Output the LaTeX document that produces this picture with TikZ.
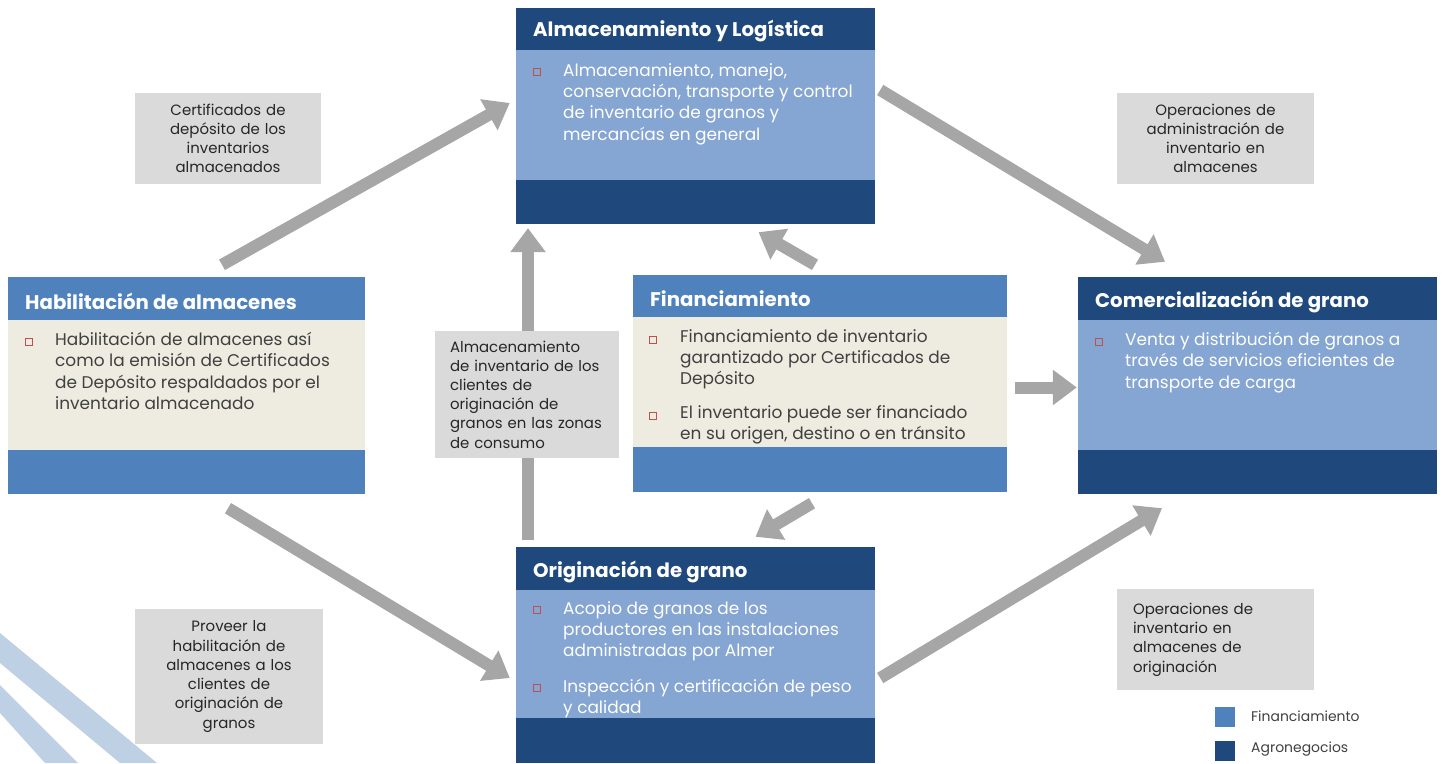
\documentclass[tikz,border=0pt]{standalone}
\usepackage{fontspec}
\setmainfont{Poppins}
\usetikzlibrary{arrows.meta}

\definecolor{agro}{RGB}{31,73,125}
\definecolor{agrolt}{RGB}{133,165,210}
\definecolor{finblue}{RGB}{79,129,189}
\definecolor{beige}{RGB}{238,236,225}
\definecolor{notegray}{RGB}{218,218,218}
\definecolor{flowgray}{RGB}{166,166,166}
\definecolor{bulletred}{RGB}{192,80,77}
\definecolor{bodygray}{RGB}{64,64,64}
\definecolor{stripe}{RGB}{190,208,228}

\begin{document}
\begin{tikzpicture}[x=1bp,y=-1bp,
  panel/.style={rectangle,inner sep=0pt,minimum width=359bp},
  head/.style={anchor=west,inner sep=0pt,text=white,font=\bfseries\fontsize{19.8}{23}\selectfont},
  body/.style={anchor=north west,inner sep=0pt,align=left,font=\fontsize{17}{21.5}\selectfont},
  bullet/.style={rectangle,draw=bulletred,line width=0.8bp,inner sep=0pt,minimum size=7bp},
  note/.style={rectangle,fill=notegray,inner ysep=0pt,text=black!85,font=\fontsize{15}{19.3}\selectfont},
  flow/.style={draw=flowgray,line width=12bp,-{Triangle[width=34bp,length=24bp]}},
  key/.style={rectangle,inner sep=0pt,minimum size=20bp}]
\useasboundingbox (0,0) rectangle (1442,763);
%% stripes in the corner
\fill[stripe] (0,633) -- (157,763) -- (120,763) -- (0,663) -- cycle;
\fill[stripe] (0,685) -- (78,763) -- (45,763) -- (0,713) -- cycle;
%% panels
\node[panel,fill=agro,minimum height=216bp] (alm) at (695.5,116) {};
\node[panel,fill=agrolt,minimum height=130bp] (almbody) at (695.5,115) {};
\node[head] (almtit) at (533,31.5) {Almacenamiento y Logística};
\node[bullet] (almb) at (536.5,72) {};
\node[body,text=white] (almtxt) at (563,63) {Almacenamiento, manejo,\\conservación, transporte y control\\de inventario de granos y\\mercancías en general};

\node[panel,fill=finblue,minimum height=217bp,minimum width=357bp] (hab) at (186.5,385.5) {};
\node[panel,fill=beige,minimum height=130bp,minimum width=357bp] (habbody) at (186.5,385) {};
\node[head] (habtit) at (25,301) {Habilitación de almacenes};
\node[bullet] (habb) at (28.5,342) {};
\node[body,text=bodygray] (habtxt) at (55,332) {Habilitación de almacenes así\\como la emisión de Certificados\\de Depósito respaldados por el\\inventario almacenado};

\node[panel,fill=finblue,minimum height=217bp,minimum width=374bp] (fin) at (820,383.5) {};
\node[panel,fill=beige,minimum height=130bp,minimum width=374bp] (finbody) at (820,382) {};
\node[head] (fintit) at (650,298.5) {Financiamiento};
\node[bullet] (finb1) at (653,340) {};
\node[body,text=bodygray] (fintxt1) at (680,329) {Financiamiento de inventario\\garantizado por Certificados de\\Depósito};
\node[bullet] (finb2) at (653,416) {};
\node[body,text=bodygray] (fintxt2) at (680,405) {El inventario puede ser financiado\\en su origen, destino o en tránsito};

\node[panel,fill=agro,minimum height=217bp] (com) at (1257.5,385.5) {};
\node[panel,fill=agrolt,minimum height=130bp] (combody) at (1257.5,385) {};
\node[head] (comtit) at (1095,301.5) {Comercialización de grano};
\node[bullet] (comb) at (1098.5,342) {};
\node[body,text=white] (comtxt) at (1125,332) {Venta y distribución de granos a\\través de servicios eficientes de\\transporte de carga};

\node[panel,fill=agro,minimum height=216bp] (ori) at (695.5,655) {};
\node[panel,fill=agrolt,minimum height=128bp] (oribody) at (695.5,654) {};
\node[head] (oritit) at (533,571.5) {Originación de grano};
\node[bullet] (orib1) at (536.5,610) {};
\node[body,text=white] (oritxt1) at (563,601) {Acopio de granos de los\\productores en las instalaciones\\administradas por Almer};
\node[bullet] (orib2) at (536.5,688) {};
\node[body,text=white] (oritxt2) at (563,679) {Inspección y certificación de peso\\y calidad};
%% flows
\draw[flow] ([shift={(35.5,-12)}]hab.north) -- ([shift={(-6,-13)}]alm.west);
\draw[flow] ([shift={(5,-26)}]alm.east) -- ([shift={(-92.5,-15)}]com.north);
\draw[flow] ([shift={(41.5,14)}]hab.south) -- ([shift={(-6,23)}]ori.west);
\draw[flow] ([shift={(5,23)}]ori.east) -- ([shift={(-95.5,14)}]com.south);
\draw[flow] ([shift={(-167.5,-7)}]ori.north) -- ([shift={(-167.5,4)}]alm.south);
\draw[flow] ([shift={(-5,-10)}]fin.north) -- ([shift={(63,8)}]alm.south);
\draw[flow] ([shift={(-8,11)}]fin.south) -- ([shift={(60,-10)}]ori.north);
\draw[flow] ([shift={(8,4)}]fin.east) -- ([shift={(-1,2)}]com.west);
%% notes
\node[note,minimum width=186bp,minimum height=91bp,text width=170bp,inner xsep=8bp,align=center] (cert) at (228,138.5) {Certificados de\\depósito de los\\inventarios\\almacenados};
\node[note,minimum width=197bp,minimum height=91bp,text width=181bp,inner xsep=8bp,align=center] (adm) at (1215.5,138.5) {Operaciones de\\administración de\\inventario en\\almacenes};
\node[note,minimum width=184bp,minimum height=127bp,text width=154bp,inner xsep=15bp,align=left] (cons) at (527,394.5) {Almacenamiento\\de inventario de los\\clientes de\\originación de\\granos en las zonas\\de consumo};
\node[note,minimum width=188bp,minimum height=135bp,text width=172bp,inner xsep=8bp,align=center] (prov) at (229,676.5) {Proveer la\\habilitación de\\almacenes a los\\clientes de\\originación de\\granos};
\node[note,minimum width=197bp,minimum height=101bp,text width=165bp,inner xsep=16bp,align=left] (opor) at (1215.5,639.5) {Operaciones de\\inventario en\\almacenes de\\originación};
%% legend
\node[key,fill=finblue] (keyfin) at (1225,717) {};
\node[anchor=west,inner sep=0pt,text=bodygray,font=\fontsize{14}{16}\selectfont] (keyfintxt) at (1251,716) {Financiamiento};
\node[key,fill=agro] (keyagro) at (1225,751) {};
\node[anchor=west,inner sep=0pt,text=bodygray,font=\fontsize{14}{16}\selectfont] (keyagrotxt) at (1251,749) {Agronegocios};
%
\end{tikzpicture}
\end{document}
